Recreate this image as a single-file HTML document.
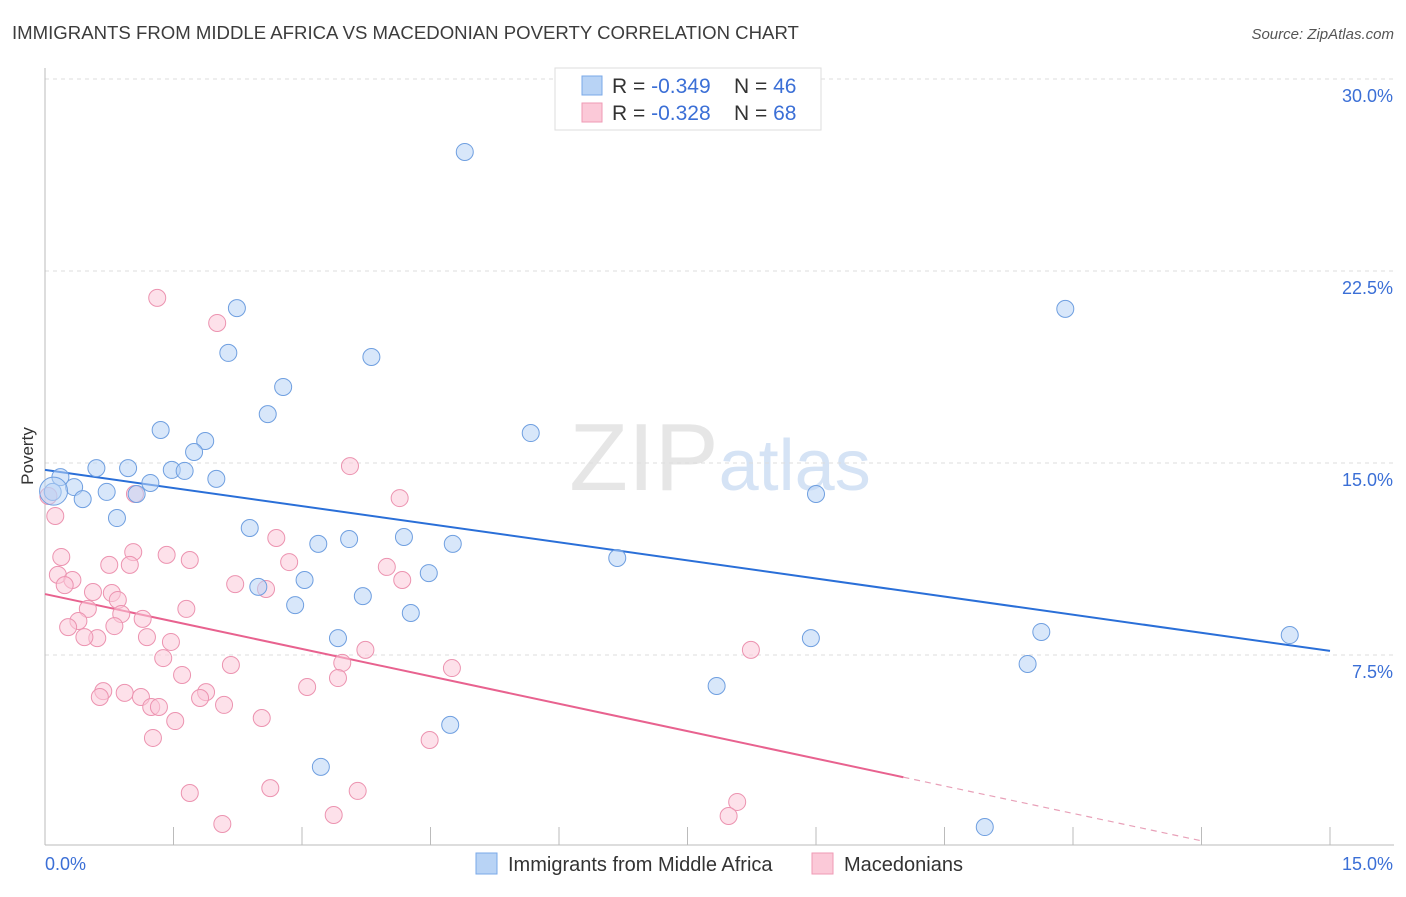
<!DOCTYPE html>
<html><head><meta charset="utf-8"><style>
body{margin:0;background:#fff;font-family:"Liberation Sans",sans-serif;}
svg text{font-family:"Liberation Sans",sans-serif;}
</style></head><body>
<svg id="chart" width="1406" height="892" xmlns="http://www.w3.org/2000/svg">
<text x="12" y="39" font-size="18.6" fill="#3c3c3c">IMMIGRANTS FROM MIDDLE AFRICA VS MACEDONIAN POVERTY CORRELATION CHART</text>
<text x="1394" y="39" font-size="15" fill="#555" text-anchor="end" font-style="italic">Source: ZipAtlas.com</text>
<text x="720" y="490" font-size="96" text-anchor="middle" fill="#e6e6e6" font-family="Liberation Serif"><tspan>ZIP</tspan><tspan font-family="Liberation Sans" fill="#d5e3f5" font-size="72">atlas</tspan></text>
<g id="grid"></g><g id="axes"></g><g id="lines"></g><g id="pts"></g>
<text transform="translate(33,456) rotate(-90)" font-size="17" fill="#333" text-anchor="middle">Poverty</text>
<g>
<rect x="555" y="68" width="266" height="62" fill="#fff" stroke="#ddd"/>
<rect x="582" y="76" width="20" height="19" fill="#b8d3f5" stroke="#7aa8e8"/>
<text x="612" y="93" font-size="21" fill="#333">R = <tspan fill="#3b6fd6">-0.349</tspan><tspan x="734">N = </tspan><tspan fill="#3b6fd6">46</tspan></text>
<rect x="582" y="103" width="20" height="19" fill="#fbc9d8" stroke="#ef9ab5"/>
<text x="612" y="120" font-size="21" fill="#333">R = <tspan fill="#3b6fd6">-0.328</tspan><tspan x="734">N = </tspan><tspan fill="#3b6fd6">68</tspan></text>
</g>
<g>
<rect x="476" y="853" width="21" height="21" fill="#b8d3f5" stroke="#7aa8e8"/>
<text x="508" y="871" font-size="20" fill="#333">Immigrants from Middle Africa</text>
<rect x="812" y="853" width="21" height="21" fill="#fbc9d8" stroke="#ef9ab5"/>
<text x="844" y="871" font-size="20" fill="#333">Macedonians</text>
</g>
</svg>
<script>
const blueX=[4.90,2.24,11.91,2.14,3.81,2.78,2.60,1.35,5.67,1.87,1.74,0.18,0.60,0.97,1.48,1.63,2.00,1.23,0.34,0.72,1.07,0.44,0.09,9.00,0.84,2.39,4.19,3.55,3.19,4.76,6.68,4.48,3.03,2.49,2.92,3.71,4.27,3.42,8.94,11.63,14.53,11.47,7.84,4.73,3.22,10.97];
const blueY=[27.15,21.05,21.02,19.30,19.14,17.97,16.91,16.29,16.17,15.86,15.43,14.45,14.80,14.80,14.73,14.69,14.38,14.22,14.06,13.87,13.79,13.59,13.87,13.79,12.85,12.46,12.11,12.03,11.84,11.84,11.29,10.70,10.43,10.16,9.45,9.80,9.14,8.16,8.16,8.40,8.28,7.15,6.29,4.77,3.13,0.78];
const pinkX=[1.31,2.01,3.56,4.14,1.05,0.12,0.04,2.70,0.19,1.03,1.42,1.69,2.85,3.99,0.15,0.32,0.75,0.99,0.23,2.22,2.58,4.17,0.56,0.78,0.85,0.50,1.65,0.89,1.14,0.39,0.27,0.81,1.19,0.61,0.46,1.47,3.74,8.24,1.38,2.17,3.47,4.75,1.60,3.42,3.06,0.68,0.64,0.93,1.88,1.12,1.81,2.09,1.24,1.33,1.52,2.53,1.26,4.49,1.69,2.63,3.65,8.08,3.37,7.98,2.07];
const pinkY=[21.45,20.47,14.88,13.63,13.79,12.93,13.71,12.07,11.33,11.52,11.41,11.21,11.13,10.94,10.63,10.43,11.02,11.02,10.23,10.27,10.08,10.43,9.96,9.92,9.65,9.30,9.30,9.10,8.91,8.83,8.59,8.63,8.20,8.16,8.20,8.01,7.70,7.70,7.38,7.11,7.19,6.99,6.72,6.60,6.25,6.09,5.86,6.02,6.05,5.86,5.82,5.55,5.47,5.47,4.92,5.04,4.26,4.18,2.11,2.30,2.19,1.76,1.25,1.21,0.90];
const yTicks=[7.5,15,22.5,30];
const yTickLabels=["7.5%","15.0%","22.5%","30.0%"];
const xTicks=[0,1.5,3,4.5,6,7.5,9,10.5,12,13.5,15];
const blueTrend=[14.73,7.66];
const pinkTrend=[9.88,-0.83];
const pinkSolidEnd=10.02;

const NS="http://www.w3.org/2000/svg";
const sx=v=>45+v*85.667, sy=v=>847-v*25.6;
function mk(tag,attrs,parent){const e=document.createElementNS(NS,tag);for(const k in attrs)e.setAttribute(k,attrs[k]);document.getElementById(parent).appendChild(e);return e;}
yTicks.forEach((t,i)=>{
  const g=mk('line',{x1:45,x2:1394,y1:sy(t),y2:sy(t),stroke:'#ddd','stroke-dasharray':'4,4'},'grid');
  
  
  const l=mk('text',{x:1393,y:sy(t)+23,'font-size':18,fill:'#3b6fd6','text-anchor':'end'},'grid');
  l.textContent=yTickLabels[i];
  
  
});
const ax=mk('line',{x1:45,x2:45,y1:68,y2:845,stroke:'#bbb'},'axes');


const bx=mk('line',{x1:45,x2:1394,y1:845,y2:845,stroke:'#bbb'},'axes');


xTicks.forEach(t=>{
  const k=mk('line',{x1:sx(t),x2:sx(t),y1:827,y2:845,stroke:'#bbb'},'axes');
  
  
});
const x0=mk('text',{x:45,y:870,'font-size':18,fill:'#3b6fd6'},'axes');x0.textContent="0.0%";


const x1=mk('text',{x:1393,y:870,'font-size':18,fill:'#3b6fd6','text-anchor':'end'},'axes');x1.textContent="15.0%";



function pts(X,Y,fill,stroke,name){X.forEach((x,i)=>{
  const c=mk('circle',{cx:sx(x),cy:sy(Y[i]),r:8.5,fill:fill,'fill-opacity':0.55,stroke:stroke,'stroke-width':1},'pts');
  
  
});}
pts(pinkX,pinkY,'#fbc9d8','#ec93b0','macedonians-point');
pts(blueX,blueY,'#b8d3f5','#6f9fe0','middle-africa-point');
const big1=mk('circle',{cx:sx(0.1),cy:sy(13.9),r:14,fill:'#b8d3f5','fill-opacity':0.5,stroke:'#6f9fe0'},'pts');



const bl=mk('line',{x1:sx(0),y1:sy(blueTrend[0]),x2:sx(15),y2:sy(blueTrend[1]),stroke:'#2a6fd8','stroke-width':2},'lines');


const pAt=x=>pinkTrend[0]+(pinkTrend[1]-pinkTrend[0])*x/15;
const pl=mk('line',{x1:sx(0),y1:sy(pinkTrend[0]),x2:sx(pinkSolidEnd),y2:sy(pAt(pinkSolidEnd)),stroke:'#e8628f','stroke-width':2},'lines');


const pd=mk('line',{x1:sx(pinkSolidEnd),y1:sy(pAt(pinkSolidEnd)),x2:sx(13.5),y2:sy(pAt(13.5)),stroke:'#e8a0b8','stroke-width':1.2,'stroke-dasharray':'6,5'},'lines');


</script>
</body></html>
